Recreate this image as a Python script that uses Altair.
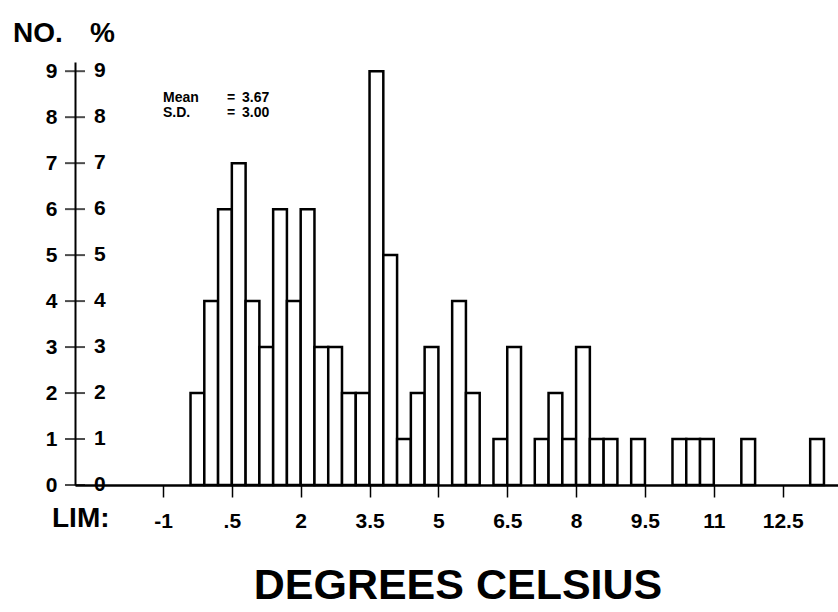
import altair as alt
import pandas as pd

# ---- data ----
bin_start = [-0.4, -0.1, 0.2, 0.5, 0.8, 1.1, 1.4, 1.7, 2.0, 2.3, 2.6, 2.9, 3.2,
             3.5, 3.8, 4.1, 4.4, 4.7, 5.3, 5.6, 6.2, 6.5, 7.1, 7.4, 7.7, 8.0,
             8.3, 8.6, 9.2, 10.1, 10.4, 10.7, 11.6, 13.1]
counts = [2, 4, 6, 7, 4, 3, 6, 4, 6, 3, 3, 2, 2,
          9, 5, 1, 2, 3, 4, 2, 1, 3, 1, 2, 1, 3,
          1, 1, 1, 1, 1, 1, 1, 1]
BIN_WIDTH = 0.3

y_ticks = [0, 1, 2, 3, 4, 5, 6, 7, 8, 9]
x_ticks = [-1, 0.5, 2, 3.5, 5, 6.5, 8, 9.5, 11, 12.5]
x_tick_labels = ["-1", ".5", "2", "3.5", "5", "6.5", "8", "9.5", "11", "12.5"]
stat_names = ["Mean", "S.D."]
stat_values = ["3.67", "3.00"]
title_text = "DEGREES CELSIUS"

# ---- layout ----
W, H = 763, 423
X_DOMAIN = [-2.917, 13.706]
Y_DOMAIN = [0, 9.2]
FONT = "Liberation Sans"

df = pd.DataFrame({"start": bin_start, "count": counts})
df["end"] = df["start"] + BIN_WIDTH
ydf = pd.DataFrame({"v": y_ticks})

label_map = "{" + ",".join(f"'{v}':'{l}'" for v, l in zip(x_ticks, x_tick_labels)) + "}"
label_expr = f"{label_map}[''+datum.value]"

xs = alt.Scale(domain=X_DOMAIN, nice=False, zero=False)
ys = alt.Scale(domain=Y_DOMAIN, nice=False, zero=False)

y_axis = alt.Axis(values=y_ticks, title=None, grid=False, domainColor="black",
                  domainWidth=2, ticks=False, tickSize=0, labelPadding=18,
                  labelFont=FONT, labelFontSize=21, labelFontWeight="bold",
                  labelColor="black", labelOverlap=False)

bars = alt.Chart(df).mark_rect(fill="white", stroke="black", strokeWidth=2.5).encode(
    x=alt.X("start:Q", scale=xs,
            axis=alt.Axis(values=x_ticks, labelExpr=label_expr, title=None, grid=False,
                          domainColor="black", domainWidth=2.5, tickColor="black",
                          tickWidth=1.5, tickSize=12, labelFont=FONT, labelFontSize=21,
                          labelFontWeight="bold", labelColor="black", labelPadding=13,
                          labelFlush=False, labelOverlap=False)),
    x2="end",
    y=alt.Y("count:Q", scale=ys, axis=y_axis),
    y2=alt.datum(0),
)

yticks = alt.Chart(ydf).mark_tick(orient="horizontal", size=20, thickness=2,
                                  color="black", clip=False).encode(
    x=alt.datum(X_DOMAIN[0]),
    y=alt.Y("v:Q", scale=ys, axis=y_axis),
)

pct_labels = alt.Chart(ydf).mark_text(align="left", baseline="middle", font=FONT,
                                      fontSize=21, fontWeight="bold", color="black",
                                      clip=False).encode(
    x=alt.value(19),
    y=alt.Y("v:Q", scale=ys, axis=y_axis),
    text=alt.Text("v:Q"),
)

def label(txt, x, y, size, align="left", weight="bold"):
    return alt.Chart(pd.DataFrame({"t": [txt]})).mark_text(
        align=align, baseline="alphabetic", font=FONT, fontSize=size, fontWeight=weight,
        color="black", clip=False
    ).encode(x=alt.value(x), y=alt.value(y), text="t:N")

layers = [bars, yticks, pct_labels,
          label("NO.", -62, -20, 28),
          label("%", 15, -20, 28),
          label("LIM:", -23, 465, 28),
          label(title_text, 383, 537, 43, align="center")]

for i, (name, val) in enumerate(zip(stat_names, stat_values)):
    yy = 40 + 15 * i
    layers.append(label(name, 88, yy, 14))
    layers.append(label("=", 152, yy, 14))
    layers.append(label(val, 167, yy, 14))

chart = alt.layer(*layers).properties(
    width=W, height=H, autosize="none",
    padding={"left": 75, "top": 62, "right": 0, "bottom": 127},
    background="white",
).configure_view(stroke=None)

chart.save("out.html", embed_options={"renderer": "svg", "actions": False})
